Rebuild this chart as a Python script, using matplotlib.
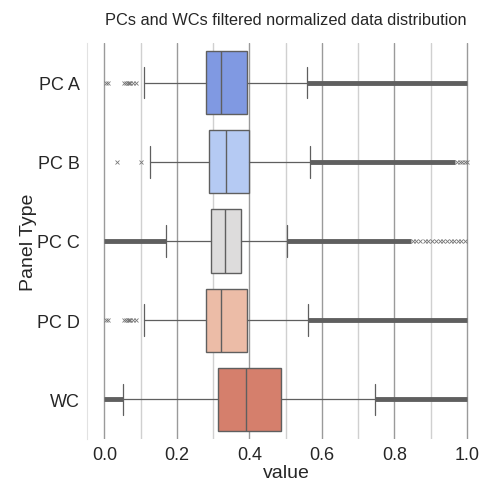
import numpy as np
import matplotlib
matplotlib.use("Agg")
import matplotlib.pyplot as plt
import seaborn as sns
from matplotlib.ticker import MultipleLocator

sns.set_style("whitegrid")
plt.rcParams['font.family'] = ['Liberation Sans', 'DejaVu Sans']

panels = ['PC A', 'PC B', 'PC C', 'PC D', 'WC']
q1 = [0.279, 0.288, 0.295, 0.279, 0.313]
med = [0.323, 0.335, 0.332, 0.323, 0.391]
q3 = [0.394, 0.399, 0.378, 0.394, 0.486]
whislo = [0.110, 0.126, 0.171, 0.110, 0.052]
whishi = [0.560, 0.567, 0.503, 0.562, 0.746]

# isolated outliers (x markers)
sparse_out = [
    [0.004, 0.010, 0.055, 0.060, 0.064, 0.068, 0.072, 0.078, 0.088],
    [0.034, 0.101, 0.972, 0.980, 0.987, 0.994, 1.0],
    [0.850, 0.860, 0.872, 0.885, 0.893, 0.905, 0.915, 0.925, 0.935, 0.945, 0.955, 0.965, 0.975, 0.985, 0.995],
    [0.004, 0.010, 0.055, 0.060, 0.064, 0.068, 0.072, 0.078, 0.088],
    [],
]
# runs of outliers so dense they read as a solid bar
dense_out = [
    [(0.560, 1.0)],
    [(0.567, 0.968)],
    [(0.0, 0.171), (0.503, 0.845)],
    [(0.562, 1.0)],
    [(0.0, 0.052), (0.746, 1.0)],
]

palette = [sns.desaturate(c, 0.75) for c in sns.color_palette("coolwarm", len(panels))]
line_c = '#5f5f5f'

fig = plt.figure(figsize=(4.82, 4.81), dpi=100)
ax = fig.add_axes([87 / 482, 41 / 481, 398 / 482, 396 / 481])

stats = []
for i, p in enumerate(panels):
    stats.append(dict(label=p, q1=q1[i], med=med[i], q3=q3[i],
                      whislo=whislo[i], whishi=whishi[i], fliers=[]))

bp = ax.bxp(stats, positions=range(len(panels)), widths=0.8, vert=False,
            patch_artist=True, showfliers=False,
            boxprops=dict(edgecolor=line_c, linewidth=1.0),
            medianprops=dict(color=line_c, linewidth=1.0),
            whiskerprops=dict(color=line_c, linewidth=0.9),
            capprops=dict(color=line_c, linewidth=0.9), zorder=3)
for patch, c in zip(bp['boxes'], palette):
    patch.set_facecolor(c)

for i in range(len(panels)):
    for a, b in dense_out[i]:
        ax.hlines(i, a, b, color=line_c, linewidth=3.5, zorder=2)
    if sparse_out[i]:
        ax.plot(sparse_out[i], [i] * len(sparse_out[i]), linestyle='none',
                marker='x', markersize=3, markeredgewidth=0.6, color='#777777', zorder=2)

ax.set_xlim(-0.048, 1.05)
ax.set_ylim(len(panels) - 0.5, -0.5)
ax.set_yticks(range(len(panels)))
ax.set_yticklabels(panels)
ax.xaxis.set_major_locator(MultipleLocator(0.2))
ax.xaxis.set_minor_locator(MultipleLocator(0.1))
ax.grid(False, axis='y')
ax.grid(True, axis='x', which='major', color='#9a9a9a', linewidth=1.0)
ax.grid(True, axis='x', which='minor', color='#d0d0d0', linewidth=1.0)
ax.set_axisbelow(True)
for s in ['top', 'right', 'bottom']:
    ax.spines[s].set_visible(False)
ax.spines['left'].set_color('#e2e2e2')
ax.tick_params(axis='both', which='both', length=0, labelsize=13, colors='#262626')
ax.tick_params(axis='y', pad=5)
ax.tick_params(axis='x', pad=5)

ax.set_xlabel('value', fontsize=14, color='#262626', labelpad=0.5)
ax.set_ylabel('Panel Type', fontsize=14, color='#262626', labelpad=0)
ax.set_title('PCs and WCs filtered normalized data distribution', fontsize=11.8,
             color='#262626', pad=14)

fig.savefig('out.png', dpi=100)
